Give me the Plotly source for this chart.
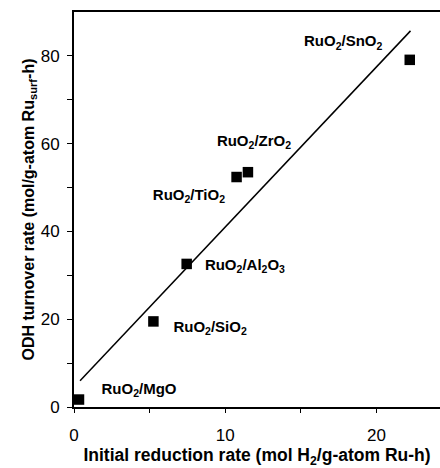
import plotly.graph_objects as go

supports = ["MgO", "SiO2", "Al2O3", "TiO2", "ZrO2", "SnO2"]
reduction_rate = [0.33, 5.25, 7.45, 10.75, 11.5, 22.2]
odh_rate = [1.7, 19.5, 32.6, 52.4, 53.5, 79.1]

label_texts = ["RuO<sub>2</sub>/MgO", "RuO<sub>2</sub>/SiO<sub>2</sub>",
               "RuO<sub>2</sub>/Al<sub>2</sub>O<sub>3</sub>", "RuO<sub>2</sub>/TiO<sub>2</sub>",
               "RuO<sub>2</sub>/ZrO<sub>2</sub>", "RuO<sub>2</sub>/SnO<sub>2</sub>"]
label_x = [4.3, 9.0, 11.3, 7.6, 11.9, 17.8]
label_y = [3.9, 18.0, 32.0, 48.1, 60.4, 83.0]

fit_x = [0.4, 22.25]
fit_y = [6.0, 85.7]

fig = go.Figure()
fig.add_trace(go.Scatter(x=fit_x, y=fit_y, mode="lines",
                         line=dict(color="black", width=1.5), showlegend=False))
fig.add_trace(go.Scatter(x=reduction_rate, y=odh_rate, mode="markers",
                         marker=dict(symbol="square", size=10.5, color="black"),
                         showlegend=False, cliponaxis=False))
fig.add_trace(go.Scatter(x=label_x, y=label_y, mode="text", text=[f"<b>{t}</b>" for t in label_texts],
                         textfont=dict(family="Liberation Sans, Arial", size=15, color="black"),
                         showlegend=False))

fig.update_layout(
    width=440, height=468,
    margin=dict(l=74, r=0, t=12, b=61),
    paper_bgcolor="white", plot_bgcolor="white",
    font=dict(family="Liberation Sans, Arial", color="black"),
    xaxis=dict(range=[0, 24.2], tickvals=[0, 5, 10, 15, 20], ticktext=["0", "", "10", "", "20"],
               ticks="outside", ticklen=4, tickcolor="black", ticklabelstandoff=8,
               showline=True, linecolor="black", linewidth=2, mirror=True,
               showgrid=False, zeroline=False, tickfont=dict(size=17),
               title=dict(text="<b>Initial reduction rate (mol H<sub>2</sub>/g-atom Ru-h)</b>",
                          font=dict(size=17.5), standoff=10)),
    yaxis=dict(range=[0, 90], tickvals=[0, 10, 20, 30, 40, 50, 60, 70, 80],
               ticktext=["0", "", "20", "", "40", "", "60", "", "80"],
               ticks="outside", ticklen=5, tickcolor="black", ticklabelstandoff=4,
               showline=True, linecolor="black", linewidth=2,
               showgrid=False, zeroline=False, tickfont=dict(size=17),
               title=dict(text="<b>ODH turnover rate (mol/g-atom Ru<sub>surf</sub>-h)</b>",
                          font=dict(size=16), standoff=2)),
)

fig.write_html("out.html", config={"displayModeBar": False},
               post_script="document.body.style.margin='0';")
